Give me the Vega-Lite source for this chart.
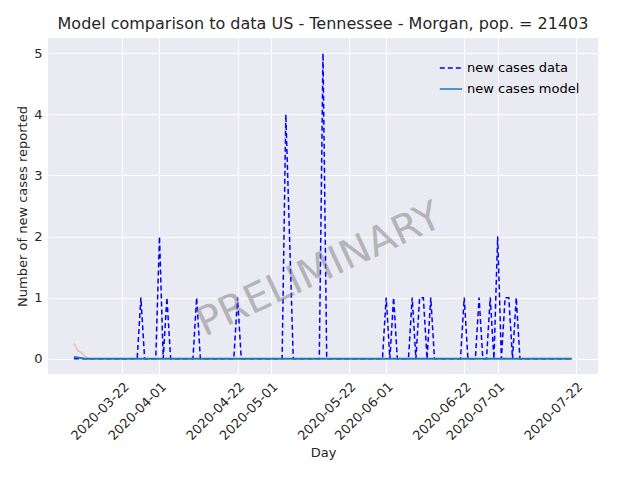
{
"$schema":"https://vega.github.io/schema/vega-lite/v6.json",
"width":550,"height":336,
"autosize":{"type":"none"},
"padding":{"left":48,"top":38,"right":42,"bottom":106},
"background":"white",
"config":{"view":{"fill":"#EAEAF2","stroke":null},"font":"DejaVu Sans",
"axis":{"gridColor":"white","gridWidth":1,"domain":false,"ticks":false,"labelFontSize":13,"titleFontSize":13,"titleFontWeight":"normal","labelColor":"#262626","titleColor":"#262626","labelOverlap":false,"labelPadding":6},
"title":{"fontSize":16,"fontWeight":"normal","color":"#262626","offset":6}},
"title":"Model comparison to data US - Tennessee - Morgan, pop. = 21403",
"datasets":{
"d":[
{"date":"2020-03-09","v":0},{"date":"2020-03-26","v":0},{"date":"2020-03-27","v":1},{"date":"2020-03-28","v":0},
{"date":"2020-03-31","v":0},{"date":"2020-04-01","v":2},{"date":"2020-04-02","v":0},{"date":"2020-04-03","v":1},{"date":"2020-04-04","v":0},
{"date":"2020-04-10","v":0},{"date":"2020-04-11","v":1},{"date":"2020-04-12","v":0},
{"date":"2020-04-21","v":0},{"date":"2020-04-22","v":1},{"date":"2020-04-23","v":0},
{"date":"2020-05-04","v":0},{"date":"2020-05-05","v":4},{"date":"2020-05-07","v":0},
{"date":"2020-05-14","v":0},{"date":"2020-05-15","v":5},{"date":"2020-05-16","v":0},
{"date":"2020-05-31","v":0},{"date":"2020-06-01","v":1},{"date":"2020-06-02","v":0},{"date":"2020-06-03","v":1},{"date":"2020-06-04","v":0},
{"date":"2020-06-07","v":0},{"date":"2020-06-08","v":1},{"date":"2020-06-09","v":0},{"date":"2020-06-10","v":1},{"date":"2020-06-11","v":1},{"date":"2020-06-12","v":0},{"date":"2020-06-13","v":1},{"date":"2020-06-14","v":0},
{"date":"2020-06-21","v":0},{"date":"2020-06-22","v":1},{"date":"2020-06-23","v":0},
{"date":"2020-06-25","v":0},{"date":"2020-06-26","v":1},{"date":"2020-06-27","v":0},
{"date":"2020-06-28","v":0},{"date":"2020-06-29","v":1},{"date":"2020-06-30","v":0},{"date":"2020-07-01","v":2},{"date":"2020-07-02","v":0},
{"date":"2020-07-03","v":1},{"date":"2020-07-04","v":1},{"date":"2020-07-05","v":0},{"date":"2020-07-06","v":1},{"date":"2020-07-07","v":0},
{"date":"2020-07-21","v":0}],
"m":[{"date":"2020-03-09","v":0.03},{"date":"2020-03-12","v":0.0},{"date":"2020-07-21","v":0}],
"o":[{"date":"2020-03-09","v":0.25},{"date":"2020-03-10","v":0.13},{"date":"2020-03-11","v":0.1},{"date":"2020-03-12","v":0.04},{"date":"2020-03-13","v":0.0}],
"w":[{"date":"2020-05-14","v":1.45,"t":"PRELIMINARY"}]
},
"encoding":{
"x":{"field":"date","type":"temporal","title":"Day",
"scale":{"domain":["2020-03-02","2020-07-28"]},
"axis":{"values":["2020-03-22","2020-04-01","2020-04-22","2020-05-01","2020-05-22","2020-06-01","2020-06-22","2020-07-01","2020-07-22"],"format":"%Y-%m-%d","labelAngle":-45,"labelAlign":"right","labelBaseline":"top"}},
"y":{"field":"v","type":"quantitative","title":"Number of new cases reported","scale":{"domain":[-0.25,5.25],"nice":false},"axis":{"values":[0,1,2,3,4,5]}}
},
"layer":[
{"data":{"name":"o"},"mark":{"type":"line","color":"#f4a582","opacity":0.7,"strokeWidth":1.5}},
{"data":{"name":"d"},"transform":[{"calculate":"'new cases data'","as":"s"}],"mark":{"type":"line","strokeDash":[5,3],"strokeWidth":1.5},"encoding":{"color":{"field":"s","type":"nominal","scale":{"domain":["new cases data","new cases model"],"range":["blue","#1f77b4"]},"legend":{"title":null,"orient":"top-right","labelFontSize":13,"symbolType":"stroke","symbolSize":500,"symbolStrokeWidth":1.5,"symbolDash":{"expr":"datum.label=='new cases data'?[5,3]:[]"}}}}},
{"data":{"name":"m"},"transform":[{"calculate":"'new cases model'","as":"s"}],"mark":{"type":"line","strokeWidth":2},"encoding":{"color":{"field":"s","type":"nominal"}}},
{"data":{"name":"w"},"mark":{"type":"text","fontSize":40,"angle":-25,"color":"gray","opacity":0.5},"encoding":{"text":{"field":"t"}}}
]
}
